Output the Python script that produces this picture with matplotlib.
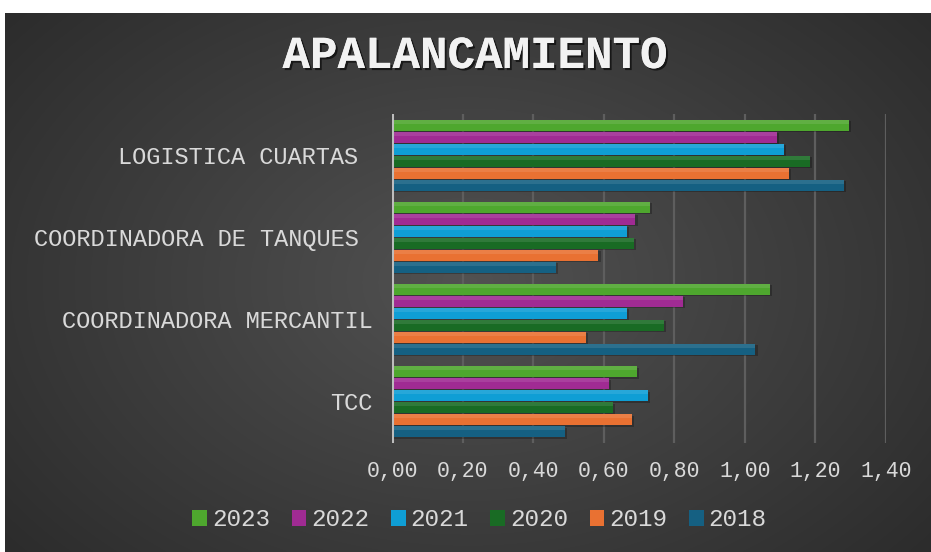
import numpy as np
import matplotlib
matplotlib.use("Agg")
import matplotlib.pyplot as plt
from matplotlib.patches import Patch
import matplotlib.patheffects as pe

categories = ["TCC", "COORDINADORA MERCANTIL", "COORDINADORA DE TANQUES ", "LOGISTICA CUARTAS "]
years = ["2018", "2019", "2020", "2021", "2022", "2023"]
v2018 = [0.49, 1.03, 0.465, 1.28]
v2019 = [0.68, 0.55, 0.585, 1.125]
v2020 = [0.625, 0.77, 0.685, 1.185]
v2021 = [0.725, 0.665, 0.665, 1.11]
v2022 = [0.615, 0.825, 0.69, 1.09]
v2023 = [0.695, 1.07, 0.73, 1.295]
series = [v2018, v2019, v2020, v2021, v2022, v2023]
colors = ["#156082", "#E97132", "#196B24", "#0F9ED5", "#A02B93", "#4EA72E"]
xticks = [0.0, 0.2, 0.4, 0.6, 0.8, 1.0, 1.2, 1.4]
xticklabels = ["0,00", "0,20", "0,40", "0,60", "0,80", "1,00", "1,20", "1,40"]

W, H = 931, 552
fig = plt.figure(figsize=(W / 100, H / 100), dpi=100, facecolor="white")

# background radial gradient
bg = fig.add_axes([5 / W, 0, (W - 5) / W, (H - 13) / H])
yy, xx = np.mgrid[0:1:300j, 0:1:500j]
r = np.sqrt(((xx - 0.5) / 0.75) ** 2 + ((yy - 0.5) / 0.9) ** 2)
g = 0.32 - 0.17 * np.clip(r, 0, 1.2)
bg.imshow(np.dstack([g, g, g]), aspect="auto", extent=[0, 1, 0, 1], interpolation="bilinear")
bg.set_axis_off()

ax = fig.add_axes([392 / W, 109.5 / H, (886 - 392) / W, (438 - 109.5) / H])
ax.patch.set_alpha(0)
ax.set_xlim(0, 1.4)
ax.set_ylim(-0.5, len(categories) - 0.5)

slot = 0.146
bh = 0.134
y0 = np.arange(len(categories))
for i, (vals, c) in enumerate(zip(series, colors)):
    yc = y0 + (i - 2.5) * slot
    ax.barh(yc - 0.02, vals, height=bh, left=0.006, color="black", alpha=0.25, zorder=2)
    ax.barh(yc, vals, height=bh, color=c, zorder=3)
    ax.barh(yc + bh * 0.3, vals, height=bh * 0.4, color="white", alpha=0.1, zorder=4)

for x in xticks[1:]:
    ax.axvline(x, color="#5e5e5e", lw=1.6, zorder=1)
ax.axvline(0, color="#bdbdbd", lw=2.2, zorder=5)

for s in ax.spines.values():
    s.set_visible(False)
ax.set_xticks(xticks)
ax.set_xticklabels(xticklabels)
ax.set_yticks(y0)
ax.set_yticklabels(categories)
ax.tick_params(axis="x", length=0, pad=13, labelsize=15.5, labelcolor="#d9d9d9")
ax.tick_params(axis="y", length=0, pad=14, labelsize=17, labelcolor="#d9d9d9")
for lab in ax.get_xticklabels() + ax.get_yticklabels():
    lab.set_family(["Liberation Mono", "DejaVu Sans Mono"])

fig.text(475 / W, 1 - 56 / H, "APALANCAMIENTO", ha="center", va="center",
         fontsize=33, fontweight="bold", color="#f2f2f2",
         family=["Liberation Mono", "DejaVu Sans Mono"],
         path_effects=[pe.withSimplePatchShadow(offset=(1.5, -1.5), shadow_rgbFace="black", alpha=0.6), pe.Normal()])

handles = [Patch(facecolor=c, label=y) for y, c in zip(years[::-1], colors[::-1])]
leg = fig.legend(handles=handles, loc="center", bbox_to_anchor=(479.5 / W, 1 - 520 / H), ncol=6,
                 frameon=False, handlelength=0.6, handleheight=0.6, handletextpad=0.2,
                 columnspacing=0.9, borderaxespad=0, borderpad=0,
                 prop={"family": ["Liberation Mono", "DejaVu Sans Mono"], "size": 17.5})
for t in leg.get_texts():
    t.set_color("#d9d9d9")

fig.savefig("out.png", dpi=100, facecolor="white")
